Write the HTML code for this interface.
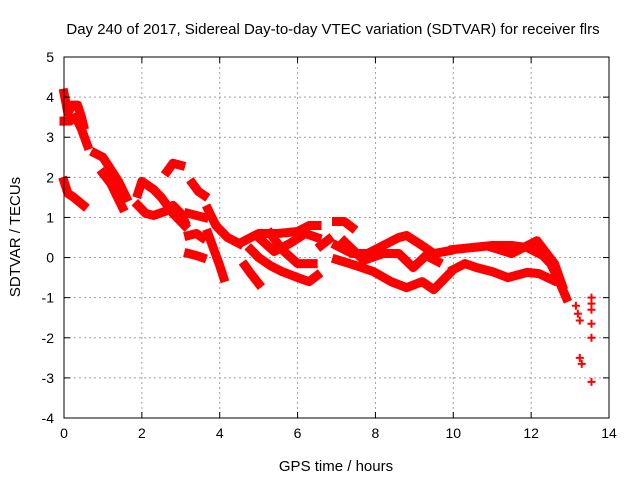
<!DOCTYPE html>
<html><head><meta charset="utf-8"><style>
body{margin:0;background:#fff;}
svg{display:block;font-family:"Liberation Sans",sans-serif;}
</style></head><body>
<svg id="chart" width="640" height="480" viewBox="0 0 640 480">
<rect x="0" y="0" width="640" height="480" fill="#fff"/>
<text x="333" y="34" font-size="15" text-anchor="middle" fill="#000">Day 240 of 2017, Sidereal Day-to-day VTEC variation (SDTVAR) for receiver flrs</text>
<g id="grid"></g>
<g id="marks"></g>
<g id="axes"></g>
<text x="336" y="471" font-size="15" text-anchor="middle">GPS time / hours</text>
<text transform="translate(20,237) rotate(-90)" font-size="15" text-anchor="middle">SDTVAR / TECUs</text>
</svg>
<script>
const xTicks=[0,2,4,6,8,10,12,14];
const yTicks=[-4,-3,-2,-1,0,1,2,3,4,5];
const trackA=[[0,4.1],[0.1,3.6],[0.2,3.8],[0.35,3.8],[0.45,3.5],[0.5,3.3]];
const trackA2=[[0,3.4],[0.15,3.4],[0.3,3.5],[0.45,3.2],[0.6,2.8]];
const trackB=[[0.8,2.6],[1.0,2.5],[1.2,2.2],[1.4,1.9],[1.6,1.5]];
const trackC=[[1.0,2.1],[1.2,1.85],[1.35,1.55],[1.5,1.25]];
const trackD=[[0,1.9],[0.1,1.6],[0.25,1.5],[0.5,1.3]];
const trackE=[[1.9,1.6],[2.0,1.9],[2.3,1.7],[2.5,1.5],[2.8,1.1],[3.1,0.8]];
const trackE2=[[1.9,1.3],[2.1,1.1],[2.3,1.05],[2.6,1.15],[2.8,1.3],[3.0,1.1],[3.1,0.9]];
const trackF=[[2.65,2.15],[2.8,2.35],[3.0,2.3]];
const trackG=[[3.3,1.85],[3.45,1.65],[3.6,1.55]];
const trackH=[[3.2,1.1],[3.4,1.05],[3.6,1.0]];
const trackI=[[3.2,0.55],[3.4,0.6],[3.55,0.5]];
const trackJ=[[3.2,0.1],[3.4,0.05],[3.55,0.0]];
const trackK=[[3.7,1.2],[3.9,0.8],[4.2,0.5],[4.5,0.35]];
const trackL=[[3.7,0.6],[3.85,0.2],[4.0,-0.2],[4.1,-0.5]];
const trackN=[[4.65,-0.2],[4.8,-0.4],[5.0,-0.65]];
const trackP=[[4.6,0.4],[5.0,0.6],[5.5,0.6],[6.0,0.65],[6.3,0.8],[6.5,0.8]];
const trackQ=[[4.8,0.2],[5.0,0.0],[5.3,-0.2],[5.6,-0.35],[6.0,-0.5],[6.3,-0.6],[6.5,-0.45]];
const trackR=[[5.0,0.5],[5.4,0.15],[5.8,0.35],[6.2,0.6],[6.5,0.5]];
const trackR2=[[5.3,0.6],[5.6,0.2],[6.0,-0.15],[6.4,-0.15]];
const trackS=[[6.6,0.3],[6.8,0.45]];
const trackT=[[7.0,0.9],[7.2,0.9],[7.4,0.75]];
const trackU=[[7.0,0.3],[7.4,0.1],[7.8,0.1],[8.2,0.3],[8.6,0.5],[8.8,0.55],[9.2,0.3],[9.5,0.1],[9.9,0.17]];
const trackV=[[7.0,-0.05],[7.5,-0.2],[7.95,-0.35],[8.4,-0.6],[8.8,-0.75],[9.2,-0.6],[9.5,-0.8],[9.9,-0.4]];
const trackW=[[7.2,0.4],[7.7,-0.07],[8.2,0.1],[8.6,0.1],[8.97,-0.25],[9.3,0.05],[9.6,-0.1]];
const trackX=[[10.0,0.2],[10.5,0.25],[11.0,0.3],[11.5,0.3],[11.9,0.25],[12.3,0.05],[12.5,-0.15],[12.7,-0.55],[12.9,-1.0]];
const trackY=[[10.0,-0.3],[10.3,-0.15],[10.6,-0.25],[11.0,-0.35],[11.4,-0.5],[11.9,-0.37],[12.2,-0.4],[12.57,-0.57]];
const trackZ=[[11.0,0.25],[11.5,0.1],[12.15,0.42],[12.4,0.1],[12.6,-0.15],[12.8,-0.7]];
const tracks=[trackA,trackA2,trackB,trackC,trackD,trackE,trackE2,trackF,trackG,trackH,trackI,trackJ,trackK,trackL,trackN,trackP,trackQ,trackR,trackR2,trackS,trackT,trackU,trackV,trackW,trackX,trackY,trackZ];
const outliers=[[13.15,-1.2],[13.2,-1.4],[13.25,-1.57],[13.25,-2.5],[13.3,-2.65],[13.55,-1.0],[13.55,-1.15],[13.55,-1.3],[13.55,-1.65],[13.55,-2.0],[13.55,-3.1]];
const NS='http://www.w3.org/2000/svg';
const L=64,R=609,T=57,B=418,x0=0,x1=14,y0=-4,y1=5;
function sx(v){return L+(v-x0)/(x1-x0)*(R-L);}
function sy(v){return B-(v-y0)/(y1-y0)*(B-T);}
function mk(t,a){const e=document.createElementNS(NS,t);for(const k in a)e.setAttribute(k,a[k]);return e;}
const grid=document.getElementById('grid'),axes=document.getElementById('axes'),marks=document.getElementById('marks');
xTicks.forEach(v=>{
 if(v>x0&&v<x1){const g=mk('line',{x1:sx(v),x2:sx(v),y1:T,y2:B,stroke:'#a0a0a0','stroke-dasharray':'2,3'});
 
 grid.appendChild(g);}
 axes.appendChild(mk('line',{x1:sx(v),x2:sx(v),y1:B,y2:B-6,stroke:'#000'}));
 axes.appendChild(mk('line',{x1:sx(v),x2:sx(v),y1:T,y2:T+6,stroke:'#000'}));
 const l=mk('text',{x:sx(v),y:B+20,'font-size':14,'text-anchor':'middle'});l.textContent=v;
 
 axes.appendChild(l);
});
yTicks.forEach(v=>{
 if(v>y0&&v<y1){const g=mk('line',{x1:L,x2:R,y1:sy(v),y2:sy(v),stroke:'#a0a0a0','stroke-dasharray':'2,3'});
 
 grid.appendChild(g);}
 axes.appendChild(mk('line',{x1:L,x2:L+6,y1:sy(v),y2:sy(v),stroke:'#000'}));
 axes.appendChild(mk('line',{x1:R,x2:R-6,y1:sy(v),y2:sy(v),stroke:'#000'}));
 const l=mk('text',{x:L-10,y:sy(v)+5,'font-size':14,'text-anchor':'end'});l.textContent=v;
 
 axes.appendChild(l);
});
axes.appendChild(mk('rect',{x:L,y:T,width:R-L,height:B-T,fill:'none',stroke:'#000'}));
function plus(x,y){const p=mk('path',{d:`M${sx(x)-4},${sy(y)}h8M${sx(x)},${sy(y)-4}v8`,stroke:'#f00','stroke-width':2,fill:'none'});
 
 marks.appendChild(p);}
tracks.forEach(tr=>{
 const pl=mk('polyline',{points:tr.map(p=>sx(p[0])+','+sy(p[1])).join(' '),stroke:'#f00','stroke-width':9,fill:'none','stroke-linejoin':'round','stroke-linecap':'square'});
 
 
 marks.appendChild(pl);
 tr.forEach(p=>plus(p[0],p[1]));
});
outliers.forEach(p=>plus(p[0],p[1]));
</script>
</body></html>
